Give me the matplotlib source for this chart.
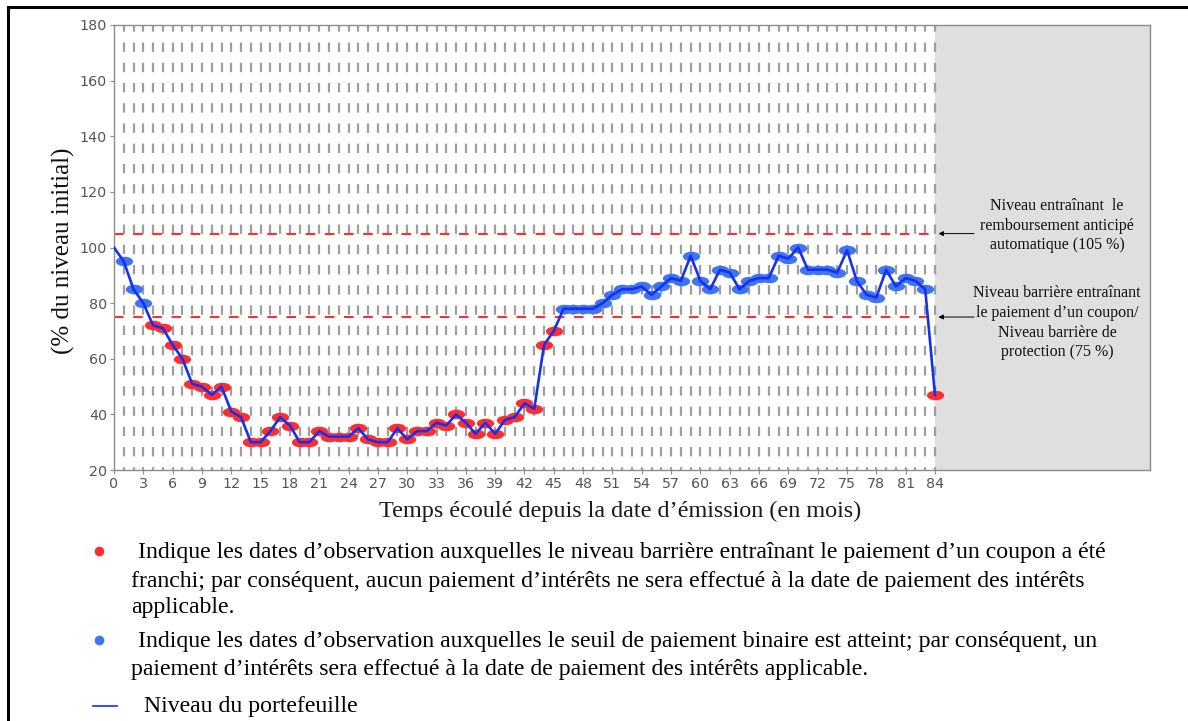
import numpy as np
import matplotlib
matplotlib.use('Agg')
import matplotlib.pyplot as plt
from matplotlib.path import Path
from matplotlib.transforms import Affine2D
from matplotlib.lines import Line2D

# --- data --------------------------------------------------------------------
months = list(range(85))
level = [100, 95, 85, 80, 72, 71, 65, 60, 51, 50,
         47, 50, 41, 39, 30, 30, 34, 39, 36, 30,
         30, 34, 32, 32, 32, 35, 31, 30, 30, 35,
         31, 34, 34, 37, 36, 40, 37, 33, 37, 33,
         38, 39, 44, 42, 65, 70, 78, 78, 78, 78,
         80, 83, 85, 85, 86, 83, 86, 89, 88, 97,
         88, 85, 92, 91, 85, 88, 89, 89, 97, 96,
         100, 92, 92, 92, 91, 99, 88, 83, 82, 92,
         86, 89, 88, 85, 47]
autocall_level = 105
barrier_level = 75
end_month = 84
xticks = list(range(0, 85, 3))
yticks = list(range(20, 181, 20))

note_autocall = ["Niveau entraînant  le", "remboursement anticipé",
                 "automatique (105 %)"]
note_barrier = ["Niveau barrière entraînant", "le paiement d\u2019un coupon/",
                "Niveau barrière de", "protection (75 %)"]
legend_red = ["Indique les dates d\u2019observation auxquelles le niveau barrière entraînant le paiement d\u2019un coupon a été",
              "franchi; par conséquent, aucun paiement d\u2019intérêts ne sera effectué à la date de paiement des intérêts",
              "applicable."]
legend_blue = ["Indique les dates d\u2019observation auxquelles le seuil de paiement binaire est atteint; par conséquent, un",
               "paiement d\u2019intérêts sera effectué à la date de paiement des intérêts applicable."]
legend_line = "Niveau du portefeuille"

# --- figure -----------------------------------------------------------------
W, H = 1188, 721
SERIF = ['Liberation Serif', 'DejaVu Serif']
RED = '#ff2e2e'
BLUE_M = '#3f74f2'
BLUE_L = '#1530f2'
GRID = '#9e9e9e'


def fx(x):
    return x / W


def fy(y):
    return 1 - y / H


fig = plt.figure(figsize=(W / 100, H / 100), dpi=100)
ax = fig.add_axes([fx(114), fy(470), 1036 / W, 445 / H])
ax.set_xlim(0, 106)
ax.set_ylim(20, 180)

ax.axvspan(end_month, 106, color='#dfdfdf', zorder=0, lw=0)
ax.vlines(months[1:], 180, 20, colors=GRID, lw=1.6,
          linestyles=(1.2, (4.2, 4.9)), zorder=1)
ax.hlines([autocall_level, barrier_level], 0, end_month, colors=RED, lw=1.5,
          linestyles=(0, (4.6, 4.6)), zorder=2)

# elliptical markers
ell = Path.unit_circle().transformed(Affine2D().scale(1.0, 0.55))
m = np.array(months)
v = np.array(level, dtype=float)
low = (v < barrier_level) & (m > 0)
high = (v >= barrier_level) & (m > 0)
ax.plot(m[low], v[low], ls='none', marker=ell, ms=12.5, color=RED,
        mec='none', zorder=3)
ax.plot(m[high], v[high], ls='none', marker=ell, ms=12.5, color=BLUE_M,
        mec='none', zorder=3)
ax.plot(months, level, color=BLUE_L, lw=1.9, zorder=4)

for s in ax.spines.values():
    s.set_color('#8c8c8c')
    s.set_linewidth(1.0)
ax.set_xticks(xticks)
ax.set_yticks(yticks)
ax.tick_params(colors='#8c8c8c', labelcolor='#555555', labelsize=10.3,
               length=3, width=0.8, pad=2)

# arrows to the reference levels
for lvl in (autocall_level, barrier_level):
    ax.annotate('', xy=(84.35, lvl), xytext=(88.0, lvl),
                arrowprops=dict(arrowstyle='-|>', color='black', lw=0.7,
                                mutation_scale=7, shrinkA=0, shrinkB=0),
                zorder=5)

for txt, y in zip(note_autocall, [206, 226, 245]):
    fig.text(fx(1057), fy(y), txt, ha='center', va='center',
             family=SERIF, fontsize=11.5, color='#111111')
for txt, y in zip(note_barrier, [293, 313, 333, 352]):
    fig.text(fx(1057), fy(y), txt, ha='center', va='center',
             family=SERIF, fontsize=11.5, color='#111111')

# axis titles
fig.text(fx(620), fy(511), "Temps écoulé depuis la date d\u2019émission (en mois)",
         ha='center', va='center', family=SERIF, fontsize=17.4, color='#1a1a1a')
fig.text(fx(63), fy(251), "(% du niveau initial)", rotation=90,
         ha='center', va='center', family=SERIF, fontsize=18, color='#111111')

# legend block below the chart
fig.add_artist(Line2D([fx(99)], [fy(551)], marker='o', ms=7, color=RED,
                      mec='none', transform=fig.transFigure))
fig.add_artist(Line2D([fx(99)], [fy(640)], marker='o', ms=7, color=BLUE_M,
                      mec='none', transform=fig.transFigure))
fig.add_artist(Line2D([fx(93), fx(117)], [fy(706), fy(706)], color=BLUE_L,
                      lw=1.2, transform=fig.transFigure))

for txt, x, y in zip(legend_red, [138, 131, 131], [558, 587, 613]):
    fig.text(fx(x), fy(y), txt, ha='left', va='baseline',
             family=SERIF, fontsize=17.1, color='black')
for txt, x, y in zip(legend_blue, [138, 131], [647, 675]):
    fig.text(fx(x), fy(y), txt, ha='left', va='baseline',
             family=SERIF, fontsize=17.1, color='black')
fig.text(fx(144), fy(712), legend_line, ha='left', va='baseline',
         family=SERIF, fontsize=17.1, color='black')

# outer frame (top and left edges visible)
fig.add_artist(Line2D([fx(8), 1.0], [fy(7), fy(7)], color='black', lw=2.2,
                      transform=fig.transFigure))
fig.add_artist(Line2D([fx(8), fx(8)], [fy(7), 0.0], color='black', lw=2.2,
                      transform=fig.transFigure))

fig.savefig('out.png', dpi=100)
plt.close(fig)
